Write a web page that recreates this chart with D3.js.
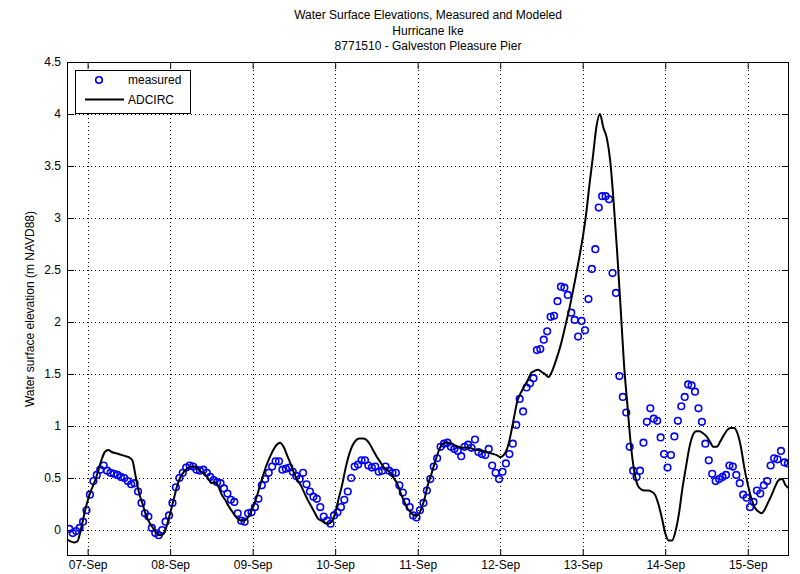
<!DOCTYPE html>
<html>
<head>
<meta charset="utf-8">
<script src="https://cdn.jsdelivr.net/npm/d3@7"></script>
<style>
  html, body { margin: 0; padding: 0; background: #fff; }
  svg { display: block; font-family: "Liberation Sans", Arial, Helvetica, sans-serif; }
</style>
</head>
<body>
<svg id="chart" width="800" height="574"></svg>
<script>
// ---- chart text ----
const titleLines = [
  "Water Surface Elevations, Measured and Modeled",
  "Hurricane Ike",
  "8771510 - Galveston Pleasure Pier"
];
const yAxisLabel = "Water surface elevation (m NAVD88)";
const seriesNames = ["measured", "ADCIRC"];

// ---- time axis ----
const timeDomain = ["2008-09-06T18:00:00Z", "2008-09-15T12:00:00Z"];
const dayTicks = ["2008-09-07", "2008-09-08", "2008-09-09", "2008-09-10", "2008-09-11",
                  "2008-09-12", "2008-09-13", "2008-09-14", "2008-09-15"];
const yTicks = [0, 0.5, 1, 1.5, 2, 2.5, 3, 3.5, 4, 4.5];
const yDomain = [-0.25, 4.5];

// ---- measured water level, hourly (m NAVD88) ----
const measuredStart = "2008-09-06T18:40:00Z";
const measured = [
  0.01, -0.03, -0.01, 0.02, 0.08, 0.19, 0.34, 0.47, 0.53, 0.58,
  0.62, 0.57, 0.55, 0.54, 0.53, 0.51, 0.50, 0.47, 0.44, 0.45,
  0.37, 0.26, 0.16, 0.13, 0.02, -0.03, -0.05, 0.00, 0.08, 0.14,
  0.26, 0.41, 0.50, 0.55, 0.60, 0.62, 0.61, 0.58, 0.57, 0.58,
  0.55, 0.51, 0.48, 0.46, 0.45, 0.40, 0.35, 0.29, 0.27, 0.16,
  0.09, 0.08, 0.16, 0.17, 0.22, 0.30, 0.43, 0.49, 0.55, 0.61,
  0.66, 0.66, 0.58, 0.59, 0.60, 0.56, 0.52, 0.49, 0.55, 0.44,
  0.37, 0.32, 0.30, 0.22, 0.13, 0.09, 0.06, 0.14, 0.17, 0.22,
  0.29, 0.37, 0.50, 0.61, 0.63, 0.67, 0.67, 0.62, 0.60, 0.61,
  0.56, 0.57, 0.61, 0.57, 0.55, 0.55, 0.43, 0.36, 0.27, 0.22,
  0.14, 0.12, 0.19, 0.26, 0.38, 0.49, 0.61, 0.69, 0.80, 0.83,
  0.84, 0.80, 0.78, 0.76, 0.71, 0.80, 0.82, 0.79, 0.87, 0.75,
  0.73, 0.72, 0.78, 0.62, 0.55, 0.49, 0.56, 0.64, 0.73, 0.83,
  1.01, 1.26, 1.14, 1.37, 1.41, 1.46, 1.73, 1.74, 1.83, 1.91,
  2.05, 2.06, 2.20, 2.34, 2.33, 2.26, 2.09, 2.02, 1.86, 2.01,
  1.92, 2.22, 2.51, 2.70, 3.10, 3.21, 3.21, 3.18, 2.47, 2.28,
  1.48, 1.28, 1.13, 0.80, 0.57, 0.51, 0.57, 0.84, 1.04, 1.17,
  1.07, 1.05, 0.89, 0.73, 0.60, 0.72, 0.90, 1.05, 1.19, 1.28,
  1.40, 1.39, 1.33, 1.17, 1.04, 0.83, 0.67, 0.54, 0.47, 0.49,
  0.51, 0.53, 0.62, 0.61, 0.53, 0.45, 0.34, 0.31, 0.22, 0.27,
  0.38, 0.35, 0.43, 0.47, 0.62, 0.69, 0.68, 0.76, 0.65, 0.64
];

// ---- ADCIRC modeled water level, hourly (m NAVD88) ----
const adcircStart = "2008-09-06T18:00:00Z";
const adcirc = [
  -0.09, -0.11, -0.12, -0.11, 0.00, 0.15, 0.28, 0.38, 0.46, 0.56,
  0.67, 0.75, 0.77, 0.75, 0.74, 0.73, 0.72, 0.71, 0.70, 0.67,
  0.51, 0.35, 0.25, 0.14, 0.07, 0.02, -0.03, -0.05, -0.04, 0.04,
  0.16, 0.29, 0.42, 0.51, 0.56, 0.59, 0.61, 0.61, 0.59, 0.56,
  0.54, 0.50, 0.45, 0.46, 0.42, 0.34, 0.29, 0.23, 0.18, 0.13,
  0.10, 0.09, 0.10, 0.14, 0.21, 0.30, 0.41, 0.52, 0.62, 0.70,
  0.77, 0.82, 0.84, 0.80, 0.72, 0.64, 0.55, 0.48, 0.43, 0.36,
  0.29, 0.23, 0.17, 0.11, 0.09, 0.07, 0.06, 0.08, 0.16, 0.30,
  0.43, 0.59, 0.72, 0.81, 0.86, 0.88, 0.88, 0.87, 0.83, 0.77,
  0.71, 0.66, 0.61, 0.58, 0.55, 0.50, 0.45, 0.36, 0.28, 0.21,
  0.17, 0.14, 0.14, 0.20, 0.30, 0.44, 0.54, 0.65, 0.75, 0.82,
  0.84, 0.84, 0.83, 0.81, 0.80, 0.79, 0.79, 0.79, 0.78, 0.77,
  0.77, 0.76, 0.75, 0.74, 0.73, 0.72, 0.70, 0.72, 0.78, 0.91,
  1.08, 1.24, 1.32, 1.38, 1.44, 1.51, 1.53, 1.54, 1.52, 1.50,
  1.47, 1.52, 1.61, 1.71, 1.83, 1.97, 2.11, 2.27, 2.44, 2.62,
  2.81, 3.04, 3.33, 3.60, 3.88, 4.00, 3.87, 3.77, 3.55, 3.15,
  2.68, 2.15, 1.60, 1.20, 0.82, 0.56, 0.43, 0.39, 0.38, 0.38,
  0.37, 0.34, 0.25, 0.12, -0.03, -0.10, -0.10, -0.01, 0.16, 0.40,
  0.60, 0.79, 0.91, 0.95, 0.95, 0.93, 0.90, 0.85, 0.80, 0.80,
  0.85, 0.91, 0.96, 0.98, 0.98, 0.93, 0.80, 0.60, 0.44, 0.31,
  0.22, 0.18, 0.16, 0.20, 0.27, 0.34, 0.42, 0.48, 0.49, 0.43,
  0.40
];

// ---- layout ----
const plot = { left: 67, right: 789, top: 62, bottom: 556 };
const tickLen = 7;

const svg = d3.select("#chart");
const HOUR = 3600 * 1000;

const x = d3.scaleUtc()
  .domain(timeDomain.map(d => new Date(d)))
  .range([plot.left, plot.right]);
const y = d3.scaleLinear()
  .domain(yDomain)
  .range([plot.bottom, plot.top]);

const mStart = new Date(measuredStart).getTime();
const aStart = new Date(adcircStart).getTime();
const measuredPts = measured.map((v, i) => ({ t: new Date(mStart + i * HOUR), v }));
const adcircPts = adcirc.map((v, i) => ({ t: new Date(aStart + i * HOUR), v }));
const dayDates = dayTicks.map(d => new Date(d + "T00:00:00Z"));

// white axes background
svg.append("rect")
  .attr("x", plot.left).attr("y", plot.top)
  .attr("width", plot.right - plot.left).attr("height", plot.bottom - plot.top)
  .attr("fill", "#fff");

// dotted grid
const grid = svg.append("g").attr("stroke", "#000").attr("stroke-width", 1)
  .attr("stroke-dasharray", "1,3").attr("shape-rendering", "crispEdges");
grid.selectAll("line.vx").data(dayDates).join("line")
  .attr("x1", d => Math.round(x(d)) + 0.5).attr("x2", d => Math.round(x(d)) + 0.5)
  .attr("y1", plot.top).attr("y2", plot.bottom);
grid.selectAll("line.hy").data(yTicks).join("line")
  .attr("y1", d => Math.round(y(d)) + 0.5).attr("y2", d => Math.round(y(d)) + 0.5)
  .attr("x1", plot.left).attr("x2", plot.right);

// axes: ticks point inward, on all four sides
const xBottom = d3.axisBottom(x).tickValues(dayDates)
  .tickSizeInner(-tickLen).tickSizeOuter(0).tickPadding(4)
  .tickFormat(d3.utcFormat("%d-%b"));
const xTop = d3.axisTop(x).tickValues(dayDates)
  .tickSizeInner(-tickLen).tickSizeOuter(0).tickFormat("");
const yLeft = d3.axisLeft(y).tickValues(yTicks)
  .tickSizeInner(-tickLen).tickSizeOuter(0).tickPadding(6)
  .tickFormat(d => d3.format("")(d));
const yRight = d3.axisRight(y).tickValues(yTicks)
  .tickSizeInner(-tickLen).tickSizeOuter(0).tickFormat("");

function styleAxis(g) {
  g.select(".domain").remove();
  g.selectAll(".tick line").attr("stroke", "#000").attr("stroke-width", 1);
  g.selectAll(".tick text").attr("fill", "#000").attr("font-size", 12)
    .attr("font-family", "'Liberation Sans', Arial, sans-serif");
}
svg.append("g").attr("transform", `translate(0,${plot.bottom})`).call(xBottom).call(styleAxis);
svg.append("g").attr("transform", `translate(0,${plot.top})`).call(xTop).call(styleAxis);
svg.append("g").attr("transform", `translate(${plot.left},0)`).call(yLeft).call(styleAxis);
svg.append("g").attr("transform", `translate(${plot.right},0)`).call(yRight).call(styleAxis);

// clip region for the data
svg.append("clipPath").attr("id", "plotClip").append("rect")
  .attr("x", plot.left).attr("y", plot.top)
  .attr("width", plot.right - plot.left).attr("height", plot.bottom - plot.top);

// measured: open blue circles
svg.append("g").attr("clip-path", "url(#plotClip)")
  .selectAll("circle").data(measuredPts).join("circle")
  .attr("cx", d => x(d.t)).attr("cy", d => y(d.v)).attr("r", 3.3)
  .attr("fill", "none").attr("stroke", "#0000ff").attr("stroke-width", 1.6);

// ADCIRC: black line
const line = d3.line().x(d => x(d.t)).y(d => y(d.v)).curve(d3.curveMonotoneX);
svg.append("path").datum(adcircPts)
  .attr("clip-path", "url(#plotClip)")
  .attr("d", line).attr("fill", "none").attr("stroke", "#000")
  .attr("stroke-width", 2).attr("stroke-linejoin", "round");

// axes box
svg.append("rect")
  .attr("x", plot.left + 0.5).attr("y", plot.top + 0.5)
  .attr("width", plot.right - plot.left - 1).attr("height", plot.bottom - plot.top - 1)
  .attr("fill", "none").attr("stroke", "#000").attr("stroke-width", 1);

// title
const cx = (plot.left + plot.right) / 2;
svg.append("g").selectAll("text").data(titleLines).join("text")
  .attr("x", cx).attr("y", (d, i) => 19 + i * 15.5)
  .attr("text-anchor", "middle").attr("font-size", 12).attr("fill", "#000")
  .text(d => d);

// y axis label
svg.append("text")
  .attr("transform", `translate(34,${(plot.top + plot.bottom) / 2}) rotate(-90)`)
  .attr("text-anchor", "middle").attr("font-size", 12).attr("fill", "#000")
  .text(yAxisLabel);

// legend
const lg = svg.append("g");
lg.append("rect").attr("x", 75.5).attr("y", 70.5).attr("width", 115).attr("height", 43)
  .attr("fill", "#fff").attr("stroke", "#000").attr("stroke-width", 1);
lg.append("circle").attr("cx", 99).attr("cy", 80).attr("r", 3.3)
  .attr("fill", "none").attr("stroke", "#0000ff").attr("stroke-width", 1.6);
lg.append("line").attr("x1", 85).attr("x2", 124).attr("y1", 99.5).attr("y2", 99.5)
  .attr("stroke", "#000").attr("stroke-width", 2);
lg.selectAll("text").data(seriesNames).join("text")
  .attr("x", 128).attr("y", (d, i) => 84 + i * 19.5)
  .attr("font-size", 12).attr("fill", "#000")
  .text(d => d);
</script>
</body>
</html>
